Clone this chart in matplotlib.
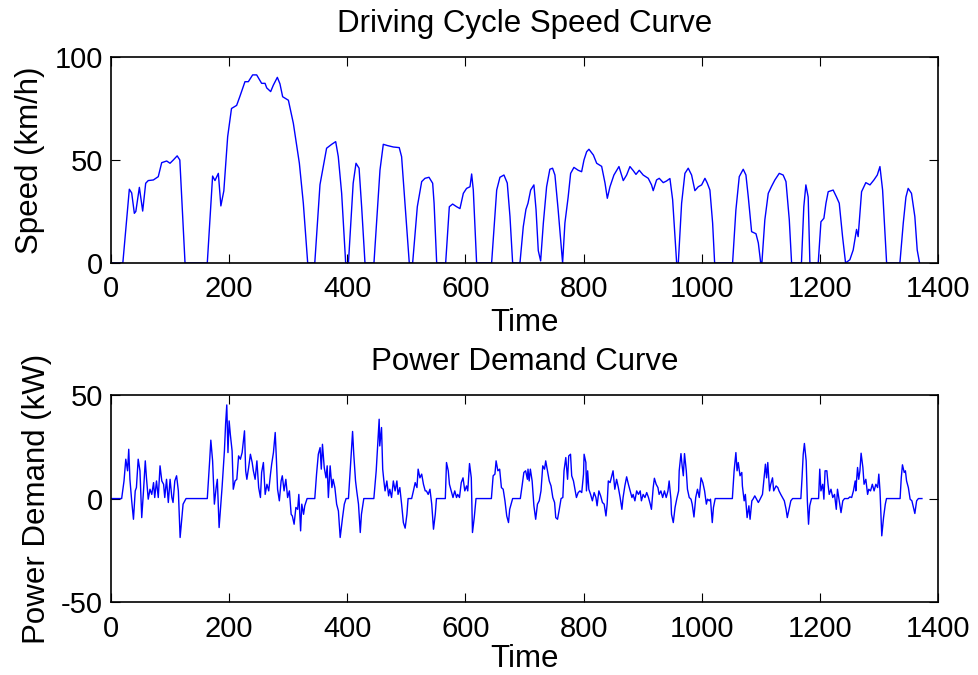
import matplotlib
matplotlib.use("Agg")
import matplotlib.pyplot as plt

# speed curve (s, km/h)
speed_t = [0, 20, 31, 35, 39.5, 42, 48, 53.6, 58.7, 63, 71.7, 80, 85.8, 94.3, 99.9, 105.5, 112, 116.5,
           125.3, 163, 172, 176, 181.7, 186, 191, 197.5, 204, 212.7, 218, 226.8, 232.5, 239.8, 246.6,
           255, 260.8, 263.6, 270.3, 274.8, 281.6, 286, 290.6, 300.3, 308.7, 318.9, 325.6, 333, 345,
           353.8, 365, 373.6, 380.4, 384.8, 390.5, 397.3, 402, 410, 414.8, 420, 424.4, 430, 445.2,
           455.4, 461, 468, 478, 488, 492, 497.7, 505, 510.7, 518.6, 526, 531.6, 538.4, 544.6, 547,
           551.4, 566.6, 572.8, 578.4, 585.2, 590.8, 596.5, 602, 607.8, 610.6, 613.4, 619, 644.4, 649,
           653, 658.5, 665.3, 670.9, 675.5, 680, 692.4, 698, 702.5, 706, 710.5, 716, 719.6, 723.4,
           727.4, 732, 737.5, 743, 747.6, 751.6, 757, 764.6, 768.5, 774, 778.2, 783.8, 791, 796.8,
           800.8, 805.3, 809.2, 816.7, 822.3, 830.7, 836.4, 840.3, 844.8, 851.5, 860, 867.3, 873,
           878.6, 884.3, 888.8, 894.4, 901, 909.6, 915.2, 918, 923.7, 928.2, 935, 940.6, 946.3, 950.9,
           957.7, 960.5, 966.1, 971.7, 977.3, 983, 988.6, 994.3, 1000, 1005.6, 1009.5, 1014, 1018.6,
           1022, 1052.4, 1058, 1063.7, 1070.4, 1075, 1079, 1084.6, 1092, 1096, 1100, 1102, 1107,
           1112.8, 1118.4, 1124, 1131.4, 1138, 1142.8, 1148.4, 1152.3, 1169, 1173, 1176.5, 1180.4,
           1183.3, 1197.4, 1202, 1207, 1210.5, 1214.3, 1222.7, 1228.4, 1233, 1238.6, 1243.7, 1251,
           1256.6, 1262.3, 1265, 1270.8, 1278, 1285, 1291.7, 1297.4, 1301.9, 1306.4, 1313.2, 1335.7,
           1341.4, 1345.9, 1349.7, 1355.3, 1361, 1365, 1369]
speed_kmh = [0, 0, 35.8, 34, 24.1, 25, 36.7, 25.2, 38.7, 40, 40.3, 41.9, 48.7, 49.5, 48.4, 50, 52, 50,
             0, 0, 42.2, 40, 43.5, 27.7, 35, 61.3, 75, 76.5, 80.7, 88, 88, 91.3, 91.3,
             87.2, 87.2, 85, 83.2, 86.3, 90.1, 87, 80.7, 79, 67.8, 48.4, 29, 0, 0,
             38, 55.7, 57.6, 58.9, 51.6, 33.8, 0, 0, 38.7, 48.4, 46, 27, 0, 0,
             45.1, 57.6, 57, 56.3, 56, 51.6, 29, 0, 0, 27.3, 39.5, 41.1, 41.6, 38.7, 29,
             0, 0, 27.3, 28.6, 27.3, 26.4, 33.8, 36.2, 37, 43.2, 35.4, 0, 0, 19.3,
             35.4, 41.6, 42.7, 38.8, 22.5, 0, 0, 17.6, 26, 29, 35.4, 37.9, 26, 6,
             1, 19.4, 37, 45.5, 46, 42.7, 26, 0, 19.4, 32, 43.5, 46.4, 45, 44.3,
             50, 54, 55.2, 52.4, 48.4, 46.9, 38.8, 31.4, 37, 42.7, 46.8, 40, 42.7,
             46.8, 44.8, 43, 45, 42.7, 41.1, 37.9, 35.1, 40.3, 41.1, 39, 39.8, 41, 30.7,
             0, 0, 29, 43.5, 46, 42.7, 35.1, 37, 37.9, 41.1, 38.8, 35.4, 19.4,
             0, 0, 25.7, 41.9, 45.5, 42.7, 32, 15.2, 14.2, 9.7, 0, 0, 20.9,
             33.8, 37.2, 40.3, 43.5, 42.7, 39.5, 21, 0, 0, 27.3, 37.9, 32,
             0, 0, 20, 21.7, 29, 34.6, 35.4, 32, 29, 12.8, 0, 1.6,
             6.3, 16.3, 12.8, 34.6, 39, 37.9, 40.3, 42.7, 46.8, 35.4, 0, 0,
             19.4, 32, 36.2, 33.8, 22.5, 6.3, 0]

# power demand curve (s, kW)
power_t = [0, 18, 22, 25, 28, 30, 32, 35, 38, 41, 43, 46, 49, 52, 55, 58, 60, 63, 66, 69, 72, 74, 77,
           80, 83, 86, 89, 91, 94, 97, 100, 103, 105, 108, 111, 114, 117, 120, 122, 127, 163, 167,
           169, 172, 175, 178, 180, 183, 185, 188, 192, 194, 196, 198, 200, 202, 205, 207, 210, 213,
           216, 219, 222, 226, 228, 230, 233, 236, 239, 241, 244, 247, 250, 253, 255, 258, 261, 264,
           267, 270, 272, 275, 278, 280, 282, 285, 288, 290, 293, 296, 299, 302, 305, 307, 310, 313,
           316, 318, 321, 323, 326, 328, 332, 345, 348, 351, 354, 356, 358, 361, 364, 366, 368, 371,
           374, 376, 379, 382, 385, 388, 392, 395, 398, 402, 405, 407, 409, 411, 414, 416, 419, 422,
           424, 428, 445, 449, 451, 454, 455, 458, 460, 462, 464, 467, 470, 472, 475, 478, 481, 484,
           486, 489, 492, 495, 498, 501, 503, 509, 512, 515, 518, 520, 523, 526, 529, 532, 534, 537,
           540, 543, 546, 549, 551, 566, 568, 571, 573, 576, 579, 582, 585, 587, 590, 593, 596, 599,
           602, 604, 607, 610, 612, 615, 618, 644, 647, 650, 652, 655, 658, 661, 664, 667, 670, 673,
           675, 680, 693, 696, 699, 702, 705, 706, 708, 710, 713, 716, 719, 722, 725, 728, 731, 734,
           736, 739, 742, 745, 748, 751, 753, 756, 759, 762, 765, 767, 770, 773, 775, 778, 780, 783,
           786, 788, 791, 794, 797, 800, 801, 804, 805, 807, 809, 812, 815, 818, 821, 823, 826, 829,
           832, 835, 838, 840, 842, 845, 848, 850, 853, 856, 859, 862, 865, 867, 870, 873, 876, 879,
           882, 884, 887, 890, 893, 896, 898, 901, 904, 907, 910, 913, 915, 918, 920, 923, 926, 928,
           931, 934, 937, 940, 943, 945, 948, 949, 952, 955, 958, 961, 962, 965, 967, 969, 971, 974,
           976, 979, 982, 984, 987, 990, 993, 996, 999, 1002, 1005, 1008, 1010, 1013, 1015, 1018,
           1020, 1023, 1052, 1055, 1058, 1060, 1062, 1065, 1068, 1069, 1072, 1074, 1077, 1080, 1082,
           1085, 1087, 1090, 1093, 1096, 1099, 1103, 1106, 1108, 1110, 1112, 1115, 1117, 1120, 1122,
           1126, 1129, 1131, 1134, 1137, 1140, 1143, 1145, 1148, 1151, 1154, 1168, 1170, 1172, 1174,
           1177, 1179, 1181, 1183, 1186, 1198, 1200, 1202, 1205, 1207, 1209, 1212, 1214, 1216, 1219,
           1222, 1225, 1228, 1230, 1233, 1236, 1239, 1242, 1248, 1251, 1254, 1257, 1260, 1261, 1264,
           1266, 1268, 1270, 1273, 1275, 1278, 1281, 1283, 1286, 1289, 1292, 1295, 1298, 1300, 1302,
           1305, 1308, 1311, 1313, 1336, 1338, 1340, 1343, 1345, 1347, 1350, 1353, 1356, 1358, 1361,
           1364, 1367, 1373]
power_kw = [0, 0, 8.5, 19, 13.4, 23.8, 9.3, -1.1, -10, 3.7, 5.3, 19, 13.4, -9.2, 3.7, 18.2, 10, -0.3,
            4.5, 2, 7.7, 0.5, 8.5, 0.5, 15.8, 8.5, 6.9, 0.5, 9.3, -1.9, 9.3, 0.5, -1.9, 8.5, 11, 3.7,
            -18.8, -9.2, -2.7, 0, 0, 18.2, 28.2, 18.2, -2.7, 5.3, 9.3, -14, -6, 5.3, 23, 36, 45.2,
            22.2, 37.5, 31, 23, 4.5, 8.5, 9.3, 20.6, 19, 22.2, 32.7, 13.4, 9.3, 15, 21.4, 17.4, 13.4,
            9.3, 18.2, 5.3, 0.5, 12.6, 17.4, 2, 6.9, 3.7, 11.8, 16.6, 22.2, 31.9, 19, 4.5, -1.1, 8.5,
            11, 3.7, 9.3, 0.5, 3.7, -7.6, -8.4, -12.4, -4.3, -5.2, 2, -15.6, -2.7, -7.6, -3.5, 0, 0,
            11.8, 21.4, 24.6, 14.2, 26.2, 15, 10, 15.8, 0.5, 15.8, 5.3, 9.3, 5.3, -2.7, -6, -18.8,
            -9.2, -2.7, 0, 0, 13.4, 23, 32.4, 21.4, 8.5, 3.7, -2.7, -16.4, -7.6, 0, 0, 13.4, 23,
            38.3, 25.4, 34.3, 14.2, 8.5, 3.7, 8.5, 1.3, 4.5, 0.5, 8.5, 3.7, 8.5, 2, 5.3, -2.7, -11.6,
            -14.3, -7.6, 0, 0, 3.7, 7.7, 5.3, 14.2, 10, 11.8, 6.9, 3.7, 3.7, 2, 4.5, -2.7, -14.8,
            -7.6, 0, 0, 17.4, 13.4, 6.9, 3.7, 0.5, 3.7, 0.5, 2, 0.5, 7.7, 10, 3.7, 6.1, 3.7, 16.9,
            10, -16.4, -9.2, 0, 0, 11, 11.8, 18.2, 13.4, 14.2, 5.3, 4.5, -1.1, -8.4, -11.6, -5.2, 0,
            0, 6.1, 12.6, 13.4, 9.3, 14.2, 8.5, 14.2, 8.5, -3.5, -10, -2.7, -1.1, 3.7, 15.8, 14.2,
            18.2, 13.4, 8.5, 6.1, 0.5, -1.9, -9.2, -10, -5.2, 0, 0.5, 13.4, 19.8, 9.3, 20.6, 21.4, 11,
            8.5, 3.7, 0.5, 2.9, 3.7, 2.9, 11.8, 21.4, 17.4, 3.7, 13.4, 4.5, 2, -1.1, 2.9, 0.5, -3.5,
            3.7, 1.3, -1.9, -2.7, -8.4, -2.7, 8.5, 7.7, 11, 13.4, 4.5, 9.3, 5.3, 0.5, -5.2, 0.5, 6.1,
            10.5, 6.9, 3.7, 0.5, 2, -1.1, 3.7, 2, 3.7, -1.1, 2, 0.5, 2.9, 0.5, -2.7, -5.2, 5.3, 9.8,
            6.9, 5.3, 2, 3.7, 0.5, 3.7, 0.5, 3.7, 8.5, -0.3, -7.6, -11.6, -4.3, 0, 3.7, 13.4, 21.7,
            15.8, 11, 21.7, 13.4, 4.5, 0.5, -0.3, -2.7, -8.9, 0.5, 4.5, 0.5, 10, 7.7, 3.7, -2.7,
            -0.3, -1.1, -0.3, -11.6, -4.3, 0, 0, 13.4, 22.2, 13.4, 17.4, 11, 12.6, 6.1, -1.1, 2,
            -9.2, -3.5, -10, -1.1, -0.3, 1.3, -0.3, -1.9, -0.3, 2, 11, 16.6, 10, 17.4, 3.7, 6.9, 10,
            3.7, 6.1, 5.3, 3.7, 2, 0.5, -1.1, -5.2, -9.2, -5.2, -1.1, 0, 0, 10, 21.4, 26.6, 18.2,
            -1.1, -12.4, -3.5, 0, 0, 14.2, 3.7, 6.9, -0.3, 13.4, 13.4, 6.9, 2, 4.5, 0.5, 2, -5.2,
            4.5, -1.1, -6.8, -1.1, 0, 0, 0.8, 0.5, 3.7, 8.5, 3.7, 15, 9.3, 13.4, 21.9, 15, 6.9, 9.3,
            2, 4.5, 3.7, 6.9, 3.7, 6.9, 5.3, 11.8, 3.7, -18, -9.2, -2.7, 0, 0, 10, 16.3, 12.6, 13.4,
            8.5, 5.3, -0.3, -1.1, -3.5, -7.2, -1.1, 0, 0]

plt.rcParams['font.family'] = ['Liberation Sans', 'DejaVu Sans']
plt.rcParams['axes.unicode_minus'] = False
plt.rcParams['xtick.labelsize'] = 21
plt.rcParams['ytick.labelsize'] = 21
plt.rcParams['axes.labelsize'] = 22.5
plt.rcParams['axes.titlesize'] = 22.5

fig = plt.figure(figsize=(9.79, 6.75), dpi=100)
ax1 = fig.add_axes([0.1134, 0.6104, 0.8446, 0.3052])
ax2 = fig.add_axes([0.1134, 0.108, 0.8446, 0.3068])

ax1.plot(speed_t, speed_kmh, color='blue', linewidth=1)
ax1.set_xlim(0, 1400)
ax1.set_ylim(0, 100)
ax1.set_yticks([0, 50, 100])
ax1.set_title('Driving Cycle Speed Curve', pad=18)
ax1.set_xlabel('Time', labelpad=3.5)
ax1.set_ylabel('Speed (km/h)', labelpad=6.5)

ax2.plot(power_t, power_kw, color='blue', linewidth=1)
ax2.set_xlim(0, 1400)
ax2.set_ylim(-50, 50)
ax2.set_yticks([-50, 0, 50])
ax2.set_title('Power Demand Curve', pad=18)
ax2.set_xlabel('Time', labelpad=1)
ax2.set_ylabel('Power Demand (kW)', labelpad=6.5)

for ax in (ax1, ax2):
    ax.set_xticks(range(0, 1401, 200))
    ax.tick_params(direction='in', top=True, right=True, length=6.5, width=0.8)
    ax.tick_params(axis='x', pad=9)
    ax.tick_params(axis='y', pad=6)
    for s in ax.spines.values():
        s.set_linewidth(1.2)

fig.savefig('out.png', dpi=100)
